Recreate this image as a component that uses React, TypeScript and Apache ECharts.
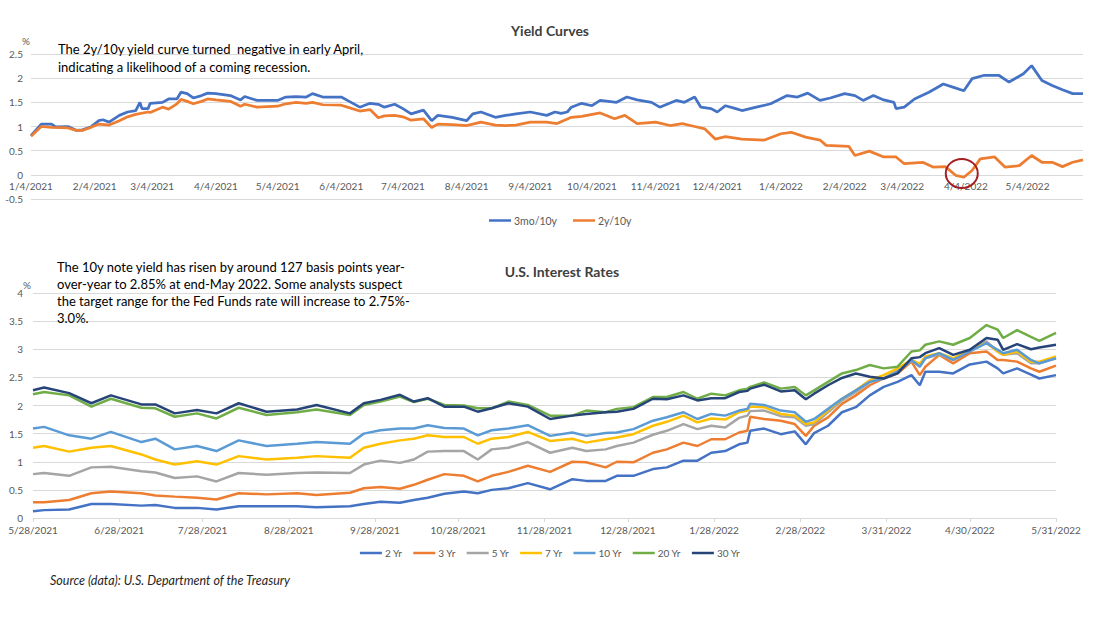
import React, { useEffect, useRef } from "react";
import * as echarts from "echarts";

// ---------- tick labels ----------
const topTickLabels = [
  "1/4/2021", "2/4/2021", "3/4/2021", "4/4/2021", "5/4/2021", "6/4/2021", "7/4/2021", "8/4/2021",
  "9/4/2021", "10/4/2021", "11/4/2021", "12/4/2021", "1/4/2022", "2/4/2022", "3/4/2022", "4/4/2022", "5/4/2022",
];
const bottomTickLabels = [
  "5/28/2021", "6/28/2021", "7/28/2021", "8/28/2021", "9/28/2021", "10/28/2021", "11/28/2021",
  "12/28/2021", "1/28/2022", "2/28/2022", "3/31/2022", "4/30/2022", "5/31/2022",
];

// ---------- Yield curves (top) ----------
const spread3m10yDates = [
  "1/4/2021", "1/9/2021", "1/14/2021", "1/16/2021", "1/22/2021", "1/26/2021", "1/29/2021", "2/2/2021", "2/6/2021", "2/8/2021",
  "2/11/2021", "2/16/2021", "2/20/2021", "2/24/2021", "2/26/2021", "2/27/2021", "3/2/2021", "3/3/2021", "3/9/2021", "3/12/2021",
  "3/16/2021", "3/18/2021", "3/21/2021", "3/24/2021", "3/28/2021", "3/31/2021", "4/4/2021", "4/11/2021", "4/16/2021", "4/18/2021",
  "4/24/2021", "5/4/2021", "5/8/2021", "5/13/2021", "5/18/2021", "5/21/2021", "5/26/2021", "6/4/2021", "6/7/2021", "6/13/2021",
  "6/18/2021", "6/22/2021", "6/25/2021", "6/30/2021", "7/4/2021", "7/8/2021", "7/14/2021", "7/18/2021", "7/21/2021", "7/28/2021",
  "8/4/2021", "8/7/2021", "8/11/2021", "8/18/2021", "8/23/2021", "8/28/2021", "9/4/2021",
  "9/12/2021", "9/16/2021", "9/19/2021", "9/22/2021", "9/24/2021", "9/29/2021", "10/4/2021", "10/8/2021", "10/16/2021", "10/21/2021",
  "10/26/2021", "11/2/2021", "11/6/2021", "11/14/2021", "11/18/2021", "11/23/2021", "11/26/2021", "12/1/2021", "12/4/2021", "12/8/2021",
  "12/13/2021", "12/16/2021", "12/23/2021", "12/30/2021", "1/7/2022", "1/12/2022", "1/17/2022", "1/23/2022", "1/28/2022", "2/4/2022",
  "2/9/2022", "2/13/2022", "2/18/2022", "2/23/2022", "2/28/2022", "3/1/2022", "3/5/2022", "3/10/2022", "3/17/2022", "3/20/2022",
  "3/24/2022", "3/29/2022", "4/3/2022", "4/7/2022", "4/13/2022", "4/20/2022", "4/25/2022", "5/2/2022", "5/6/2022", "5/11/2022",
  "5/16/2022", "5/21/2022", "5/26/2022", "5/31/2022",
];
const spread3m10yValues = [
  0.81, 1.05, 1.05, 0.99, 1.0, 0.92, 0.93, 0.99, 1.12, 1.14,
  1.09, 1.23, 1.3, 1.33, 1.5, 1.37, 1.37, 1.48, 1.5, 1.57,
  1.57, 1.71, 1.68, 1.59, 1.64, 1.69, 1.68, 1.64, 1.55, 1.62,
  1.54, 1.54, 1.61, 1.62, 1.61, 1.68, 1.61, 1.61, 1.54, 1.4,
  1.48, 1.46, 1.4, 1.46, 1.37, 1.26, 1.34, 1.12, 1.23, 1.19,
  1.12, 1.26, 1.3, 1.19, 1.23, 1.26, 1.3,
  1.23, 1.3, 1.27, 1.3, 1.4, 1.48, 1.43, 1.54, 1.5, 1.61,
  1.55, 1.5, 1.4, 1.54, 1.5, 1.61, 1.4, 1.37, 1.3, 1.43,
  1.37, 1.33, 1.4, 1.47, 1.64, 1.61, 1.69, 1.54, 1.59, 1.68,
  1.64, 1.54, 1.64, 1.55, 1.5, 1.37, 1.4, 1.57, 1.71, 1.78,
  1.88, 1.81, 1.74, 1.99, 2.06, 2.06, 1.92, 2.09, 2.26, 1.95,
  1.85, 1.76, 1.68, 1.68,
];
const spread2y10yDates = [
  "1/4/2021", "1/9/2021", "1/14/2021", "1/22/2021", "1/26/2021", "1/29/2021", "2/2/2021", "2/6/2021", "2/11/2021", "2/16/2021",
  "2/20/2021", "2/24/2021", "3/2/2021", "3/3/2021", "3/9/2021", "3/12/2021", "3/16/2021", "3/18/2021", "3/21/2021", "3/24/2021",
  "3/28/2021", "3/31/2021", "4/4/2021", "4/11/2021", "4/16/2021", "4/18/2021", "4/24/2021", "5/4/2021", "5/8/2021", "5/13/2021",
  "5/18/2021", "5/21/2021", "5/26/2021", "6/4/2021", "6/7/2021", "6/13/2021", "6/18/2021", "6/22/2021", "6/25/2021", "6/30/2021",
  "7/4/2021", "7/8/2021", "7/14/2021", "7/18/2021", "7/21/2021", "7/28/2021", "8/4/2021", "8/7/2021", "8/11/2021", "8/18/2021",
  "8/23/2021", "8/28/2021", "9/4/2021",
  "9/12/2021", "9/17/2021", "9/24/2021", "9/29/2021", "10/8/2021", "10/15/2021", "10/20/2021", "10/26/2021", "11/4/2021", "11/11/2021",
  "11/17/2021", "11/23/2021", "11/28/2021", "12/3/2021", "12/8/2021", "12/16/2021", "12/27/2021", "1/4/2022", "1/9/2022", "1/16/2022",
  "1/23/2022", "1/26/2022", "2/6/2022", "2/9/2022", "2/16/2022", "2/23/2022", "3/1/2022", "3/5/2022", "3/14/2022", "3/19/2022",
  "3/25/2022", "3/30/2022", "4/3/2022", "4/7/2022", "4/11/2022", "4/18/2022", "4/23/2022", "4/30/2022", "5/6/2022", "5/11/2022",
  "5/16/2022", "5/21/2022", "5/26/2022", "5/31/2022",
];
const spread2y10yValues = [
  0.8, 1.0, 0.98, 0.97, 0.92, 0.92, 0.98, 1.05, 1.03, 1.12,
  1.2, 1.25, 1.3, 1.29, 1.4, 1.36, 1.47, 1.56, 1.52, 1.47,
  1.52, 1.57, 1.55, 1.52, 1.42, 1.46, 1.4, 1.42, 1.47, 1.5,
  1.48, 1.5, 1.45, 1.44, 1.4, 1.32, 1.35, 1.18, 1.22, 1.23,
  1.2, 1.13, 1.16, 0.98, 1.05, 1.04, 1.02, 1.05, 1.09, 1.03,
  1.02, 1.03, 1.09,
  1.09, 1.06, 1.19, 1.21, 1.28, 1.16, 1.23, 1.06, 1.09, 1.02,
  1.06, 1.0, 0.95, 0.74, 0.79, 0.74, 0.72, 0.85, 0.88, 0.78,
  0.72, 0.61, 0.59, 0.4, 0.49, 0.37, 0.37, 0.23, 0.26, 0.16,
  0.17, -0.01, -0.05, 0.09, 0.33, 0.37, 0.16, 0.19, 0.4, 0.26,
  0.26, 0.17, 0.26, 0.31,
];

// ---------- U.S. Interest Rates (bottom) ----------
const rateDates = [
  "5/28/2021", "6/1/2021", "6/10/2021", "6/18/2021", "6/25/2021", "7/6/2021", "7/11/2021", "7/18/2021", "7/26/2021", "8/2/2021",
  "8/10/2021", "8/20/2021", "8/31/2021", "9/7/2021", "9/19/2021", "9/24/2021", "9/30/2021", "10/7/2021", "10/12/2021", "10/17/2021",
  "10/23/2021", "10/30/2021", "11/4/2021", "11/9/2021", "11/15/2021", "11/22/2021",
  "11/30/2021", "12/8/2021", "12/13/2021", "12/20/2021", "12/24/2021", "12/30/2021", "1/6/2022", "1/11/2022", "1/17/2022", "1/22/2022",
  "1/27/2022", "2/1/2022", "2/6/2022", "2/9/2022", "2/10/2022", "2/15/2022", "2/21/2022", "2/26/2022", "3/2/2022", "3/5/2022",
  "3/10/2022", "3/15/2022", "3/20/2022", "3/25/2022", "3/30/2022", "4/4/2022", "4/9/2022", "4/12/2022", "4/14/2022", "4/19/2022",
  "4/24/2022", "4/30/2022", "5/6/2022", "5/10/2022", "5/12/2022", "5/17/2022", "5/22/2022", "5/25/2022", "5/31/2022",
];
const yr2 = [
  0.12, 0.14, 0.15, 0.25, 0.25, 0.22, 0.23, 0.18, 0.18, 0.15, 0.21, 0.21, 0.21, 0.19, 0.21, 0.25, 0.29, 0.27, 0.32, 0.36,
  0.43, 0.47, 0.44, 0.5, 0.53, 0.62,
  0.51, 0.69, 0.66, 0.66, 0.75, 0.75, 0.87, 0.9, 1.02, 1.02, 1.16, 1.19, 1.31, 1.34, 1.55, 1.59, 1.49, 1.54, 1.31, 1.51,
  1.64, 1.88, 1.97, 2.18, 2.33, 2.42, 2.54, 2.36, 2.6, 2.6, 2.57, 2.73, 2.78, 2.66, 2.57, 2.66, 2.55, 2.48, 2.54,
];
const yr3 = [
  0.28, 0.28, 0.32, 0.44, 0.47, 0.44, 0.4, 0.38, 0.36, 0.33, 0.44, 0.42, 0.44, 0.41, 0.45, 0.53, 0.55, 0.52, 0.59, 0.68,
  0.78, 0.75, 0.65, 0.75, 0.82, 0.93,
  0.82, 1.0, 0.99, 0.9, 1.0, 0.99, 1.16, 1.22, 1.34, 1.28, 1.4, 1.4, 1.52, 1.55, 1.8, 1.76, 1.73, 1.67, 1.46, 1.64,
  1.79, 2.03, 2.18, 2.36, 2.48, 2.57, 2.78, 2.54, 2.69, 2.9, 2.75, 2.93, 2.96, 2.81, 2.81, 2.78, 2.66, 2.6, 2.71,
];
const yr5 = [
  0.78, 0.8, 0.75, 0.9, 0.91, 0.83, 0.81, 0.71, 0.74, 0.65, 0.8, 0.77, 0.8, 0.81, 0.8, 0.95, 1.02, 0.98, 1.04, 1.18,
  1.19, 1.19, 1.04, 1.22, 1.25, 1.35,
  1.16, 1.25, 1.19, 1.22, 1.28, 1.34, 1.48, 1.55, 1.67, 1.58, 1.64, 1.61, 1.78, 1.82, 1.9, 1.91, 1.81, 1.79, 1.64, 1.67,
  1.88, 2.09, 2.24, 2.42, 2.48, 2.63, 2.79, 2.72, 2.84, 2.91, 2.81, 2.99, 3.14, 2.96, 2.9, 2.93, 2.75, 2.75, 2.84,
];
const yr7 = [
  1.25, 1.28, 1.18, 1.25, 1.28, 1.13, 1.04, 0.95, 1.01, 0.95, 1.1, 1.04, 1.07, 1.1, 1.07, 1.25, 1.32, 1.38, 1.41, 1.47,
  1.44, 1.44, 1.32, 1.41, 1.44, 1.53,
  1.37, 1.41, 1.34, 1.4, 1.43, 1.49, 1.64, 1.71, 1.82, 1.7, 1.77, 1.75, 1.88, 1.91, 1.98, 1.97, 1.85, 1.82, 1.67, 1.7,
  1.91, 2.12, 2.27, 2.45, 2.54, 2.66, 2.81, 2.74, 2.87, 2.93, 2.84, 2.99, 3.11, 2.96, 2.9, 2.96, 2.78, 2.78, 2.87,
];
const yr10 = [
  1.59, 1.62, 1.47, 1.41, 1.53, 1.35, 1.41, 1.22, 1.28, 1.19, 1.38, 1.28, 1.32, 1.35, 1.32, 1.5, 1.56, 1.59, 1.59, 1.65,
  1.6, 1.59, 1.47, 1.56, 1.59, 1.65,
  1.46, 1.52, 1.46, 1.51, 1.52, 1.58, 1.73, 1.79, 1.88, 1.76, 1.85, 1.82, 1.91, 1.94, 2.03, 2.01, 1.91, 1.88, 1.71, 1.76,
  1.94, 2.12, 2.27, 2.42, 2.48, 2.6, 2.81, 2.69, 2.84, 2.93, 2.81, 2.96, 3.11, 2.99, 2.93, 2.99, 2.81, 2.75, 2.84,
];
const yr20 = [
  2.2, 2.24, 2.18, 1.98, 2.12, 1.96, 1.95, 1.8, 1.86, 1.77, 1.96, 1.83, 1.88, 1.93, 1.83, 2.01, 2.07, 2.16, 2.06, 2.12,
  2.01, 2.0, 1.95, 1.95, 2.07, 2.01,
  1.82, 1.82, 1.91, 1.88, 1.94, 1.97, 2.15, 2.15, 2.24, 2.12, 2.21, 2.18, 2.27, 2.3, 2.33, 2.41, 2.3, 2.33, 2.18, 2.27,
  2.42, 2.57, 2.63, 2.72, 2.66, 2.69, 2.96, 2.98, 3.08, 3.14, 3.08, 3.2, 3.43, 3.35, 3.2, 3.34, 3.22, 3.15, 3.29,
];
const yr30 = [
  2.27, 2.32, 2.22, 2.04, 2.18, 2.02, 2.02, 1.86, 1.92, 1.86, 2.04, 1.89, 1.93, 2.01, 1.86, 2.04, 2.1, 2.19, 2.07, 2.13,
  1.98, 1.98, 1.89, 1.95, 2.04, 1.98,
  1.76, 1.82, 1.85, 1.88, 1.89, 1.94, 2.12, 2.11, 2.18, 2.09, 2.13, 2.13, 2.24, 2.26, 2.3, 2.37, 2.25, 2.27, 2.11, 2.21,
  2.36, 2.49, 2.57, 2.51, 2.48, 2.57, 2.84, 2.86, 2.93, 3.02, 2.9, 2.99, 3.2, 3.17, 2.99, 3.09, 3.0, 3.03, 3.08,
];

const rateNames = ["2 Yr", "3 Yr", "5 Yr", "7 Yr", "10 Yr", "20 Yr", "30 Yr"];
const rateColors = ["#4472C4", "#ED7D31", "#A5A5A5", "#FFC000", "#5B9BD5", "#70AD47", "#264478"];
const rateValues = [yr2, yr3, yr5, yr7, yr10, yr20, yr30];

// ---------- helpers ----------
function calendarDays(start: [number, number, number], end: [number, number, number]): string[] {
  const out: string[] = [];
  let t = Date.UTC(start[0], start[1] - 1, start[2]);
  const e = Date.UTC(end[0], end[1] - 1, end[2]);
  while (t <= e) {
    const d = new Date(t);
    out.push(`${d.getUTCMonth() + 1}/${d.getUTCDate()}/${d.getUTCFullYear()}`);
    t += 86400000;
  }
  return out;
}

const FONT = "Lato, 'Open Sans', sans-serif";

export default function App() {
  const ref = useRef<HTMLDivElement>(null);

  useEffect(() => {
    document.body.style.margin = "0";
    if (!ref.current) return;
    const chart = echarts.init(ref.current, undefined, { renderer: "svg" });

    const topDays = calendarDays([2021, 1, 4], [2022, 5, 31]);
    const bottomDays = calendarDays([2021, 5, 28], [2022, 5, 31]);
    const topIdx = new Map(topDays.map((d, i) => [d, i]));
    const botIdx = new Map(bottomDays.map((d, i) => [d, i]));

    const pairs = (dates: string[], vals: number[], idx: Map<string, number>) =>
      dates.map((d, i) => [idx.get(d), vals[i]]);

    const axisLabelStyle = { color: "#595959", fontSize: 10, fontFamily: FONT };
    const gridLine = { lineStyle: { color: "#D9D9D9", width: 1 } };

    const option: any = {
      animation: false,
      textStyle: { fontFamily: FONT },
      grid: [
        { left: 31, right: 17, top: 54, height: 145 },
        { left: 33, right: 44, top: 293, height: 225 },
      ],
      xAxis: [
        {
          type: "category",
          gridIndex: 0,
          data: topDays,
          boundaryGap: false,
          axisLine: { show: false, onZero: false },
          axisTick: { show: false },
          axisLabel: {
            ...axisLabelStyle,
            margin: -18,
            interval: (_i: number, v: string) => topTickLabels.includes(v),
          },
          splitLine: { show: false },
        },
        {
          type: "category",
          gridIndex: 1,
          data: bottomDays,
          boundaryGap: false,
          axisLine: { lineStyle: { color: "#D9D9D9" } },
          axisTick: {
            show: true,
            length: 4,
            lineStyle: { color: "#D9D9D9" },
            interval: (_i: number, v: string) => bottomTickLabels.includes(v),
          },
          axisLabel: {
            ...axisLabelStyle,
            margin: 7,
            interval: (_i: number, v: string) => bottomTickLabels.includes(v),
          },
          splitLine: { show: false },
        },
      ],
      yAxis: [
        {
          type: "value",
          gridIndex: 0,
          min: -0.5,
          max: 2.5,
          interval: 0.5,
          axisLine: { show: false },
          axisTick: { show: false },
          axisLabel: { ...axisLabelStyle, margin: 8 },
          splitLine: gridLine,
        },
        {
          type: "value",
          gridIndex: 1,
          min: 0,
          max: 4,
          interval: 0.5,
          axisLine: { show: false },
          axisTick: { show: false },
          axisLabel: { ...axisLabelStyle, margin: 10 },
          splitLine: gridLine,
        },
      ],
      legend: [
        {
          data: ["3mo/10y", "2y/10y"],
          top: 210,
          left: 484,
          icon: "rect",
          itemWidth: 22,
          itemHeight: 2.5,
          itemGap: 16,
          textStyle: { color: "#595959", fontSize: 10.5, fontFamily: FONT, padding: [0, 0, 0, -2] },
        },
        {
          data: rateNames,
          top: 543,
          left: "center",
          icon: "rect",
          itemWidth: 22,
          itemHeight: 2.5,
          itemGap: 11,
          textStyle: { color: "#595959", fontSize: 10, fontFamily: FONT, padding: [0, 0, 0, -2] },
        },
      ],
      series: [
        {
          name: "3mo/10y",
          type: "line",
          xAxisIndex: 0,
          yAxisIndex: 0,
          data: pairs(spread3m10yDates, spread3m10yValues, topIdx),
          showSymbol: false,
          color: "#4472C4",
          lineStyle: { width: 2.75, color: "#4472C4" },
        },
        {
          name: "2y/10y",
          type: "line",
          xAxisIndex: 0,
          yAxisIndex: 0,
          data: pairs(spread2y10yDates, spread2y10yValues, topIdx),
          showSymbol: false,
          color: "#ED7D31",
          lineStyle: { width: 2.75, color: "#ED7D31" },
        },
        ...rateNames.map((name, k) => ({
          name,
          type: "line",
          xAxisIndex: 1,
          yAxisIndex: 1,
          data: pairs(rateDates, rateValues[k], botIdx),
          showSymbol: false,
          color: rateColors[k],
          lineStyle: { width: 2.5, color: rateColors[k] },
        })),
      ],
    };

    chart.setOption(option);

    const circleCenter = chart.convertToPixel({ gridIndex: 0 }, [topIdx.get("4/2/2022"), 0.03]) as number[];

    const txt = (text: string, x: number, y: number, extra: any = {}) => ({
      type: "text",
      x,
      y,
      silent: true,
      style: {
        text,
        fill: "#000000",
        fontSize: 13,
        fontFamily: FONT,
        textVerticalAlign: "middle",
        ...extra,
      },
    });

    chart.setOption({
      graphic: [
        txt("Yield Curves", 550, 30, { fontWeight: "bold", fontSize: 14, fill: "#404040", textAlign: "center" }),
        txt("%", 26, 41, { fontSize: 10, fill: "#595959", textAlign: "center" }),
        txt("The 2y/10y yield curve turned  negative in early April,", 58, 49),
        txt("indicating a likelihood of a coming recession.", 58, 67),
        txt("U.S. Interest Rates", 562, 271, { fontWeight: "bold", fontSize: 14, fill: "#404040", textAlign: "center" }),
        txt("%", 27, 285, { fontSize: 10, fill: "#595959", textAlign: "center" }),
        txt("The 10y note yield has risen by around 127 basis points year-", 57, 267),
        txt("over-year to 2.85% at end-May 2022. Some analysts suspect", 57, 284),
        txt("the target range for the Fed Funds rate will increase to 2.75%-", 57, 301),
        txt("3.0%.", 57, 318),
        txt("Source (data): U.S. Department of the Treasury", 50, 580, {
          fontSize: 12.5,
          fontStyle: "italic",
          fill: "#262626",
        }),
        {
          type: "ellipse",
          silent: true,
          shape: { cx: circleCenter[0], cy: circleCenter[1], rx: 16, ry: 14.5 },
          style: { fill: "transparent", stroke: "#A51E22", lineWidth: 2 },
          z: 100,
        },
      ],
    });

    return () => chart.dispose();
  }, []);

  return <div ref={ref} style={{ width: 1100, height: 619 }} />;
}
